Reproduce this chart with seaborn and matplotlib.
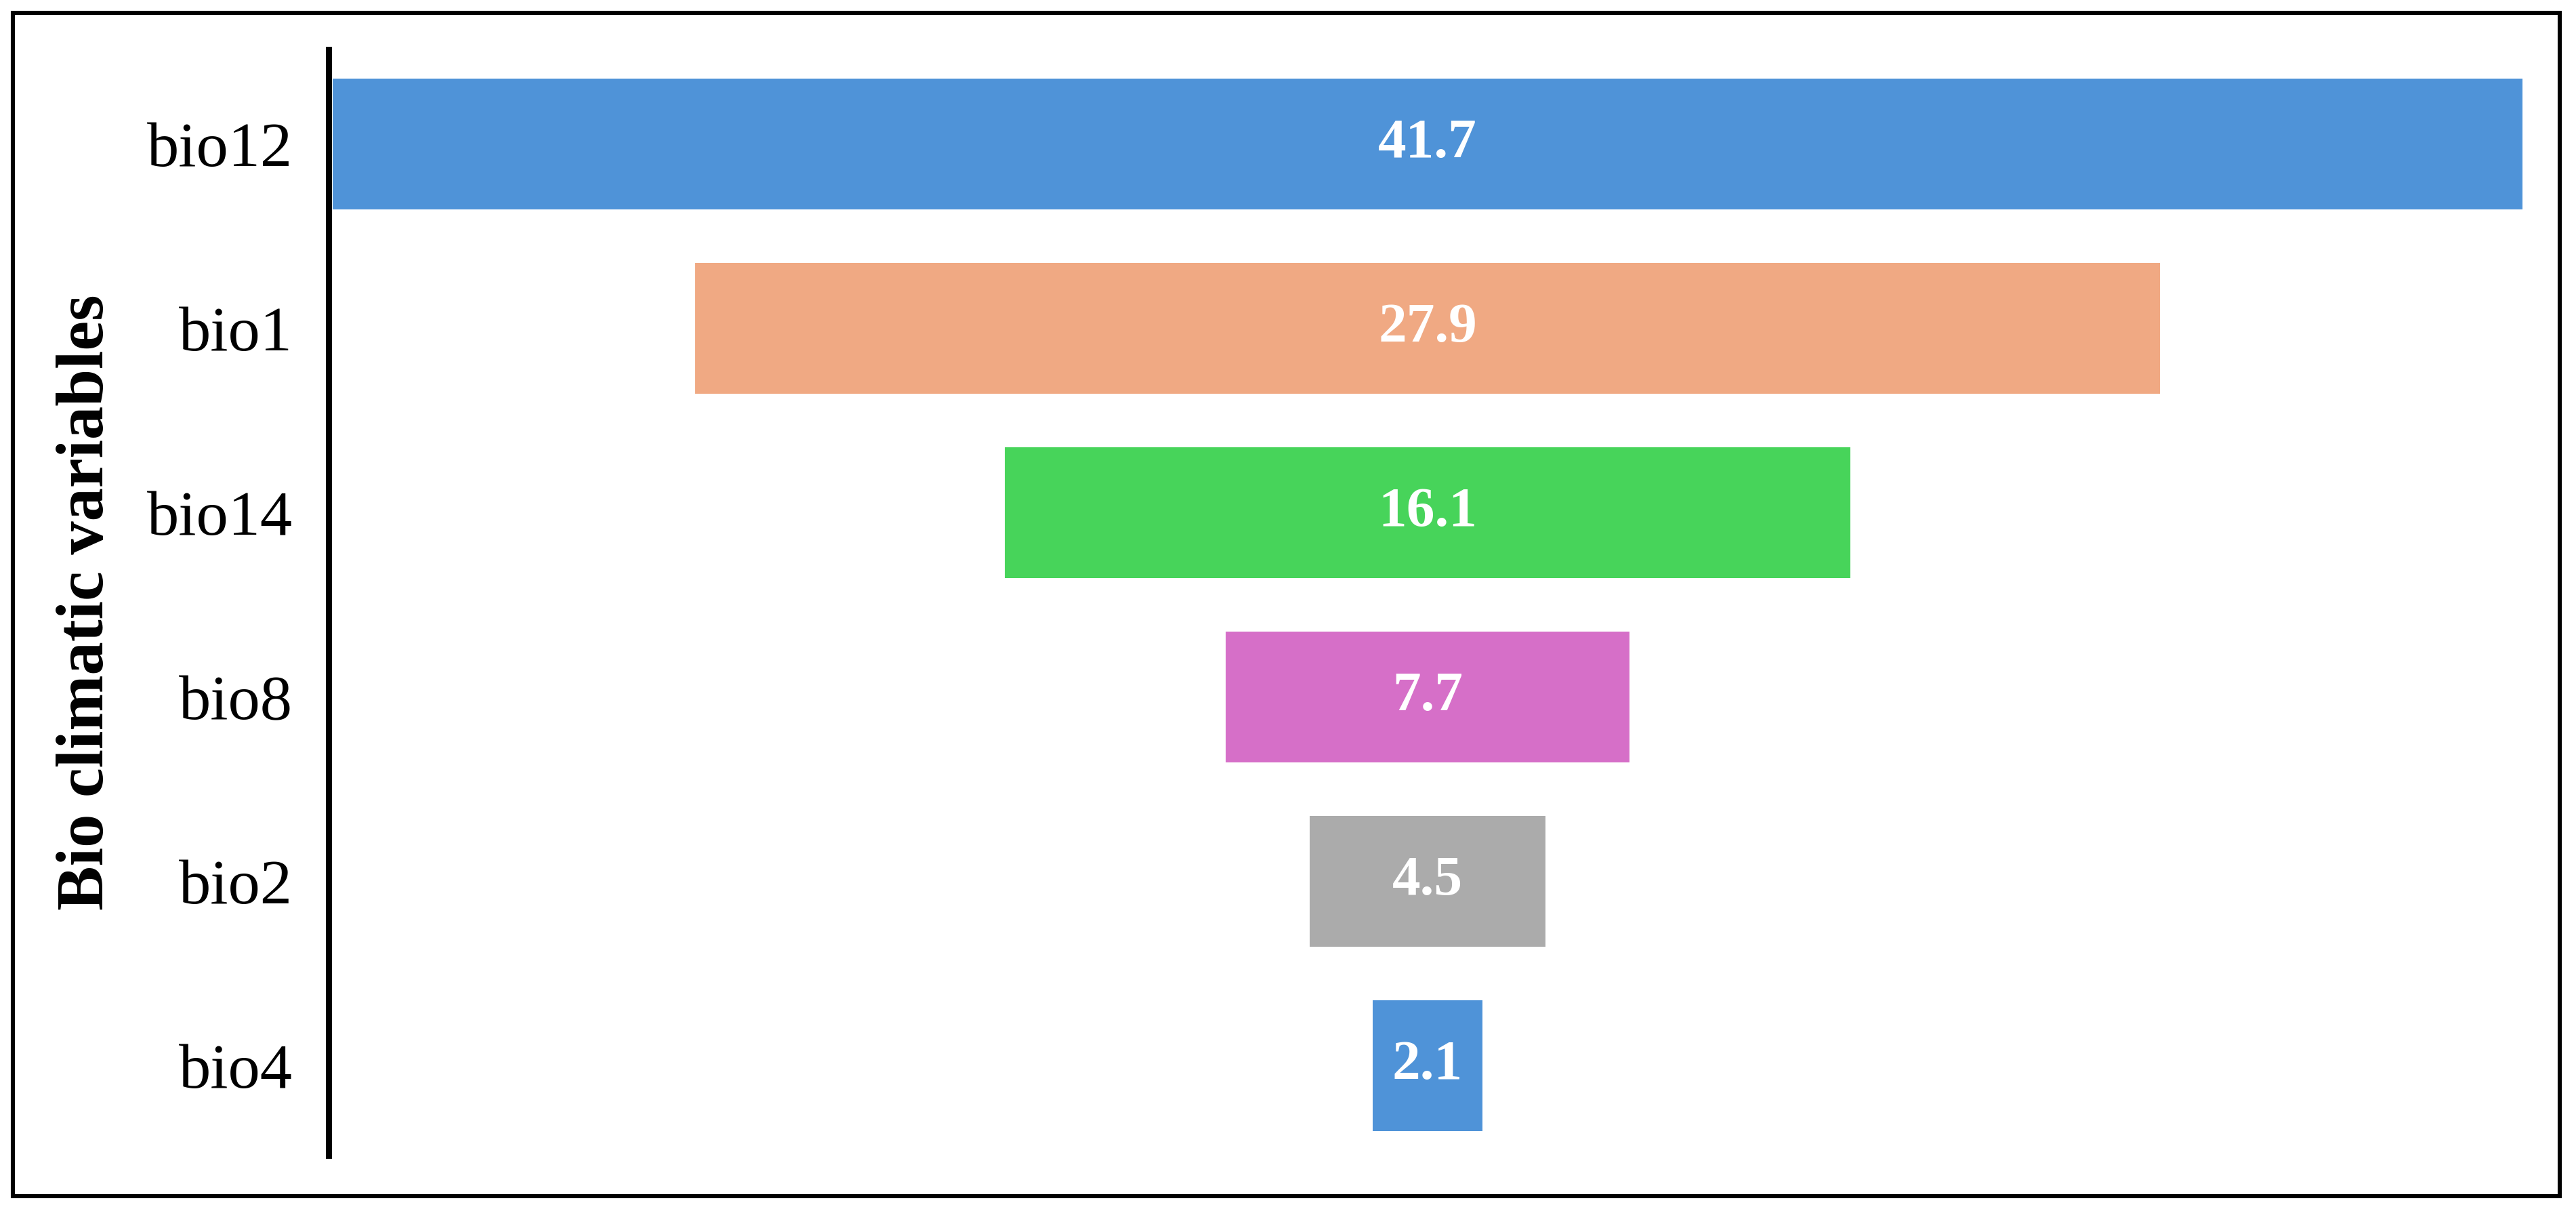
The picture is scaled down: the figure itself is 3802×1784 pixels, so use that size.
import matplotlib
matplotlib.use("Agg")
import matplotlib.pyplot as plt
import seaborn as sns
import pandas as pd
from matplotlib.patches import Rectangle

categories = ["bio12", "bio1", "bio14", "bio8", "bio2", "bio4"]
values = [41.7, 27.9, 16.1, 7.7, 4.5, 2.1]
colors = ["#4F93D8", "#F0A983", "#47D45A", "#D66FC8", "#ABABAB", "#4F93D8"]
ylabel = "Bio climatic variables"

sns.set_theme(style="white")
plt.rcParams["font.family"] = ["Liberation Serif", "DejaVu Serif"]

df = pd.DataFrame({"var": categories, "val": values})

W, H, DPI = 3802, 1784, 200
fig = plt.figure(figsize=(W / DPI, H / DPI), dpi=DPI)
ax = fig.add_axes([485 / W, 1 - 1705 / H, (3729 - 485) / W, (1705 - 73) / H])

sns.barplot(data=df, x="val", y="var", hue="var", palette=colors, legend=False,
            orient="h", width=0.71, ax=ax, saturation=1, linewidth=0)

# center each bar around zero to form a funnel
for p in ax.patches:
    w = p.get_width()
    p.set_x(-w / 2)

for c in ax.containers:
    ax.bar_label(c, labels=[f"{v:.1f}" for v in c.datavalues], label_type="center",
                 color="white", fontweight="bold", fontsize=30)

half = max(values) / 2 * 669 / 666.5
ax.set_xlim(-half, half)
ax.set_ylim(len(categories) - 0.513, -0.513)

ax.set_xlabel("")
ax.set_ylabel(ylabel, fontsize=35.5, fontweight="bold", labelpad=16)
ax.set_xticks([])
ax.tick_params(axis="y", length=0, pad=19, labelsize=34, colors="black")
for s in ["top", "right", "bottom"]:
    ax.spines[s].set_visible(False)
ax.spines["left"].set_color("black")
ax.spines["left"].set_linewidth(3.2)
ax.yaxis.label.set_color("black")

fig.patches.append(Rectangle((19 / W, 1 - 1765 / H), (3778 - 19) / W, (1765 - 19) / H,
                             transform=fig.transFigure, fill=False,
                             edgecolor="black", linewidth=2.2, zorder=10))

fig.savefig("out.png", dpi=DPI, facecolor="white")
